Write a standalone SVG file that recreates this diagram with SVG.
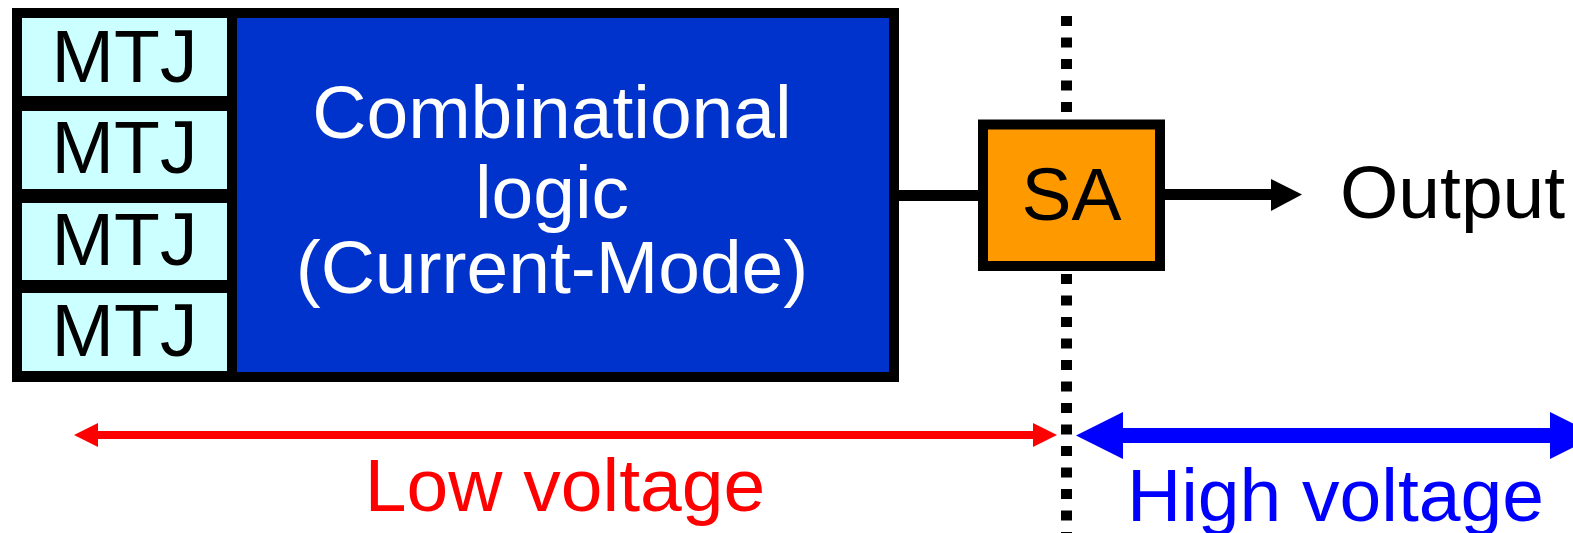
<svg xmlns="http://www.w3.org/2000/svg" width="1573" height="533" viewBox="0 0 1573 533">
<style>
.t{font-family:"Liberation Sans",Arial,sans-serif;font-size:75px;text-anchor:middle}
.k{fill:#000}
.w{fill:#fff}
.mtj{fill:#ccffff}
</style>
<rect width="1573" height="533" fill="#fff"/>
<g id="connectors">
<line x1="1066.5" y1="16" x2="1066.5" y2="533" stroke="#000" stroke-width="11" stroke-dasharray="10 11.5"/>
<line x1="895" y1="195.5" x2="982" y2="195.5" stroke="#000" stroke-width="11"/>
<line x1="1160" y1="194.5" x2="1272" y2="194.5" stroke="#000" stroke-width="11"/>
<polygon points="1271,179 1302,194.5 1271,211" fill="#000"/>
<line x1="96" y1="435" x2="1035" y2="435" stroke="#ff0000" stroke-width="8"/>
<polygon points="74,435 98,423 98,447" fill="#ff0000"/>
<polygon points="1057,435 1033,423 1033,447" fill="#ff0000"/>
<line x1="1120" y1="435.5" x2="1553" y2="435.5" stroke="#0000ff" stroke-width="15"/>
<polygon points="1076,435.5 1123,412 1123,459" fill="#0000ff"/>
<polygon points="1597,435.5 1550,412 1550,459" fill="#0000ff"/>
</g>
<g id="logic-block">
<rect x="12" y="8" width="887" height="374" fill="#000"/>
<rect x="237" y="18" width="652" height="354" fill="#0033cc"/>
<text class="t w" x="552" y="138">Combinational</text>
<text class="t w" x="552" y="218">logic</text>
<text class="t w" x="552" y="293">(Current-Mode)</text>
</g>
<g id="mtj1"><rect class="mtj" x="22" y="18" width="205" height="78"/><text class="t k" x="124.5" y="82">MTJ</text></g>
<g id="mtj2"><rect class="mtj" x="22" y="111" width="205" height="78"/><text class="t k" x="124.5" y="173">MTJ</text></g>
<g id="mtj3"><rect class="mtj" x="22" y="203" width="205" height="77"/><text class="t k" x="124.5" y="265">MTJ</text></g>
<g id="mtj4"><rect class="mtj" x="22" y="293" width="205" height="78"/><text class="t k" x="124.5" y="356">MTJ</text></g>
<g id="sa">
<rect x="983" y="124.5" width="177" height="141.5" fill="#ff9900" stroke="#000" stroke-width="10"/>
<text class="t k" x="1071.5" y="220">SA</text>
</g>
<g id="output"><text class="t k" x="1340" y="218" style="text-anchor:start">Output</text></g>
<g id="low-voltage"><text class="t" x="565" y="511" fill="#ff0000">Low voltage</text></g>
<g id="high-voltage"><text class="t" x="1335.5" y="521" fill="#0000ff">High voltage</text></g>
</svg>
